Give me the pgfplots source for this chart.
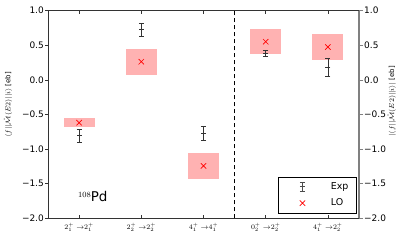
\documentclass[border=0pt]{standalone}
\usepackage{fontspec}
\setmainfont{DejaVu Sans}
\usepackage{pgfplots}
\pgfplotsset{compat=1.18}
\begin{document}
\begin{tikzpicture}
\path[use as bounding box] (-48bp,-21.7bp) rectangle (359bp,218.3bp);
\begin{axis}[
 at={(0,0)}, anchor=south west,
 scale only axis, width=311bp, height=207.6bp,
 xmin=-0.5, xmax=4.5, ymin=-2, ymax=1,
 axis x line*=box, axis y line*=left,
 xtick={0,1,2,3,4},
 xticklabels={$2^+_1\;{\rightarrow}2^+_1$,$2^+_2\;{\rightarrow}2^+_2$,$4^+_1\;{\rightarrow}4^+_1$,$0^+_2\;{\rightarrow}2^+_2$,$4^+_1\;{\rightarrow}2^+_2$},
 xticklabel style={font=\fontsize{7}{8}\selectfont, yshift=-1bp},
 ytick={-2,-1.5,-1,-0.5,0,0.5,1},
 yticklabels={−2.0,−1.5,−1.0,−0.5,0.0,0.5,1.0},
 yticklabel style={font=\fontsize{9}{10}\selectfont, inner xsep=1bp},
 xtick align=inside, ytick align=outside,
 major tick length=3bp,
 tick style={black!80, line width=0.6bp},
 axis line style={line width=0.8bp, black!80},
 ylabel={$\langle f||\hat{\mathcal{M}}(E2)||i\rangle$ [eb]},
 ylabel style={font=\fontsize{7}{8}\selectfont, at={(axis description cs:-0.1286,0.546)}, anchor=center},
 legend style={at={(axis description cs:0.993,0.024)}, anchor=south east, draw=black, line width=0.8bp, font=\fontsize{9.5}{11}\selectfont, inner xsep=6bp, inner ysep=3.5bp, row sep=4bp, /tikz/every odd column/.append style={column sep=6bp}},
 legend cell align=left,
 clip=false,
]
% LO uncertainty boxes
\addplot[fill=red!30, draw=none, forget plot] coordinates {(-0.25,-0.685) (0.25,-0.685) (0.25,-0.555) (-0.25,-0.555)} --cycle;
\addplot[fill=red!30, draw=none, forget plot] coordinates {(0.75,0.075) (1.25,0.075) (1.25,0.447) (0.75,0.447)} --cycle;
\addplot[fill=red!30, draw=none, forget plot] coordinates {(1.75,-1.428) (2.25,-1.428) (2.25,-1.061) (1.75,-1.061)} --cycle;
\addplot[fill=red!30, draw=none, forget plot] coordinates {(2.75,0.37) (3.25,0.37) (3.25,0.731) (2.75,0.731)} --cycle;
\addplot[fill=red!30, draw=none, forget plot] coordinates {(3.75,0.283) (4.25,0.283) (4.25,0.659) (3.75,0.659)} --cycle;
% dashed separator
\addplot[black, dash pattern=on 4bp off 3bp, line width=0.9bp, forget plot] coordinates {(2.5,-2) (2.5,1)};
% Exp
\addplot[black!80, only marks, mark=-, mark size=2.5bp, mark options={line width=0.6bp},
  legend image code/.code={
    \path (0,0) (38bp,0);
    \draw[black!70, line width=0.6bp] (18bp,-4.5bp)--(18bp,4.5bp)
      (15.5bp,-4.5bp)--(20.5bp,-4.5bp) (15.5bp,4.5bp)--(20.5bp,4.5bp)
      (15.5bp,0bp)--(20.5bp,0bp);},
  error bars/.cd, y dir=both, y explicit, error mark=|,
  error bar style={line width=0.6bp, black!80},
  error mark options={mark size=2.5bp, line width=0.6bp, black!80}]
  table[x=x, y=y, y error=e] {
x y e
0 -0.806 0.09
1 0.725 0.09
2 -0.775 0.105
3 0.384 0.05
4 0.182 0.13
};
\addlegendentry{Exp}
% LO
\addplot[red, only marks, mark=x, mark size=3.8bp, mark options={line width=0.7bp},
  legend image code/.code={
    \path (0,0) (38bp,0);
    \draw[red, line width=0.7bp] (15.3bp,-2.7bp)--(20.7bp,2.7bp) (15.3bp,2.7bp)--(20.7bp,-2.7bp);}]
  coordinates {(0,-0.618) (1,0.263) (2,-1.244) (3,0.552) (4,0.475)};
\addlegendentry{LO}
\node[anchor=base west, font=\fontsize{13.5}{15}\selectfont, inner sep=0pt] at (axis cs:-0.02,-1.76) {\raisebox{4.5bp}{\fontsize{8}{8}\selectfont$108$}Pd};
\end{axis}
\begin{axis}[
 at={(0,0)}, anchor=south west,
 scale only axis, width=311bp, height=207.6bp,
 xmin=-0.5, xmax=4.5, ymin=-2, ymax=1,
 axis y line*=right, axis x line=none,
 ytick={-2,-1.5,-1,-0.5,0,0.5,1},
 yticklabels={−2.0,−1.5,−1.0,−0.5,0.0,0.5,1.0},
 yticklabel style={font=\fontsize{9}{10}\selectfont, inner xsep=1bp},
 ytick align=outside, major tick length=4bp,
 tick style={gray, line width=0.7bp},
 y axis line style={gray, line width=1.3bp},
 ylabel={$|\langle f||\hat{\mathcal{M}}(E2)||i\rangle|$ [eb]},
 ylabel style={font=\fontsize{7}{8}\selectfont, at={(axis description cs:1.105,0.563)}, anchor=center},
]
\addplot[draw=none] coordinates {(0,0)};
\end{axis}
\end{tikzpicture}
\end{document}
